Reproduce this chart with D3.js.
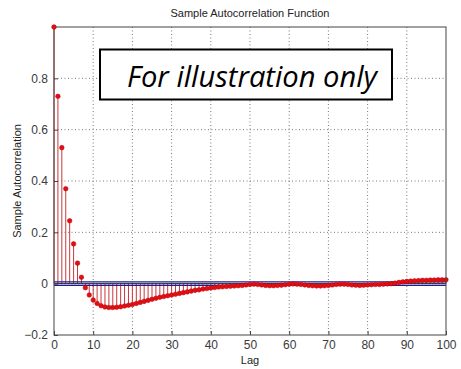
<!DOCTYPE html>
<html>
<head>
<meta charset="utf-8">
<script src="https://cdn.jsdelivr.net/npm/d3@7"></script>
<style>
  body { margin: 0; background: #fff; }
  text { font-family: "Liberation Sans", Arial, sans-serif; }
</style>
</head>
<body>
<div id="chart"></div>
<script>
// Sample autocorrelation values, lag 0..100
const acfValues = [
    1.0, 0.73, 0.53, 0.37, 0.245, 0.155, 0.08, 0.025, -0.016, -0.044,
    -0.064, -0.077, -0.086, -0.091, -0.093, -0.093, -0.092, -0.09, -0.087, -0.084,
    -0.081, -0.077, -0.073, -0.069, -0.065, -0.061, -0.057, -0.053, -0.05, -0.047,
    -0.044, -0.041, -0.038, -0.035, -0.032, -0.029, -0.026, -0.024, -0.021, -0.019,
    -0.017, -0.015, -0.013, -0.012, -0.011, -0.01, -0.009, -0.008, -0.007, -0.005,
    -0.003, -0.002, -0.003, -0.005, -0.007, -0.008, -0.008, -0.007, -0.006, -0.004,
    -0.002, -0.001, -0.002, -0.003, -0.005, -0.007, -0.008, -0.009, -0.009, -0.008,
    -0.007, -0.005, -0.003, -0.002, -0.002, -0.003, -0.005, -0.006, -0.007, -0.006,
    -0.005, -0.004, -0.003, -0.003, -0.002, -0.001, 0, 0.002, 0.005, 0.007,
    0.009, 0.01, 0.011, 0.012, 0.013, 0.013, 0.014, 0.014, 0.015, 0.015,
    0.015
];
const lags = acfValues.map((d, i) => i);

// Confidence bounds (very close to zero)
const confBounds = [0.007, -0.007];

// Axis ticks
const xTicks = [0, 10, 20, 30, 40, 50, 60, 70, 80, 90, 100];
const yTicks = [-0.2, 0, 0.2, 0.4, 0.6, 0.8];

const width = 461, height = 369;
const margin = { left: 54, right: 15, top: 27, bottom: 34 };
const innerW = width - margin.left - margin.right;
const innerH = height - margin.top - margin.bottom;

const svg = d3.select('#chart').append('svg')
    .attr('width', width)
    .attr('height', height);

const x = d3.scaleLinear().domain([0, 100]).range([margin.left, margin.left + innerW]);
const y = d3.scaleLinear().domain([-0.2, 1]).range([margin.top + innerH, margin.top]);

// Grid lines
const grid = svg.append('g').attr('class', 'grid');
grid.selectAll('.gx')
    .data(xTicks.filter(d => d > 0 && d < 100))
    .enter().append('line')
    .attr('x1', d => x(d)).attr('x2', d => x(d))
    .attr('y1', y(1)).attr('y2', y(-0.2))
    .attr('stroke', '#777').attr('stroke-width', 1)
    .attr('stroke-dasharray', '1,2.5');
grid.selectAll('.gy')
    .data(yTicks.filter(d => d > -0.2))
    .enter().append('line')
    .attr('x1', x(0)).attr('x2', x(100))
    .attr('y1', d => y(d)).attr('y2', d => y(d))
    .attr('stroke', '#777').attr('stroke-width', 1)
    .attr('stroke-dasharray', '1,2.5');

// Stems
svg.append('g').selectAll('line')
    .data(lags)
    .enter().append('line')
    .attr('x1', d => x(d)).attr('x2', d => x(d))
    .attr('y1', y(0)).attr('y2', d => y(acfValues[d]))
    .attr('stroke', '#c8383c').attr('stroke-width', 1);

// Baseline and confidence bounds
svg.append('line')
    .attr('x1', x(0)).attr('x2', x(100))
    .attr('y1', y(0)).attr('y2', y(0))
    .attr('stroke', '#222').attr('stroke-width', 1);
svg.append('g').selectAll('line')
    .data(confBounds)
    .enter().append('line')
    .attr('x1', x(0)).attr('x2', x(100))
    .attr('y1', d => y(d)).attr('y2', d => y(d))
    .attr('stroke', '#1c1c9a').attr('stroke-width', 1.2);

// Markers
svg.append('g').selectAll('circle')
    .data(lags)
    .enter().append('circle')
    .attr('cx', d => x(d))
    .attr('cy', d => y(acfValues[d]))
    .attr('r', 2.3)
    .attr('fill', '#e01010')
    .attr('stroke', '#c00010')
    .attr('stroke-width', 0.5);

// Axes
const xAxis = d3.axisBottom(x).tickValues(xTicks).tickSize(-4).tickPadding(5).tickFormat(d3.format('d'));
const yAxis = d3.axisLeft(y).tickValues(yTicks).tickSize(-4).tickPadding(6).tickFormat(d => d === 0 ? '0' : d3.format('.1f')(d));

const gx = svg.append('g').attr('transform', `translate(0,${y(-0.2)})`).call(xAxis);
const gy = svg.append('g').attr('transform', `translate(${x(0)},0)`).call(yAxis);
[gx, gy].forEach(g => {
    g.select('.domain').remove();
    g.selectAll('.tick line').attr('stroke', '#444');
    g.selectAll('.tick text').attr('fill', '#3a3a3a').style('font-size', '12px');
});

// Box
svg.append('rect')
    .attr('x', x(0)).attr('y', y(1))
    .attr('width', x(100) - x(0)).attr('height', y(-0.2) - y(1))
    .attr('fill', 'none').attr('stroke', '#444').attr('stroke-width', 1);

// Lag 0 marker on top of the box
svg.append('circle')
    .attr('cx', x(lags[0])).attr('cy', y(acfValues[0]))
    .attr('r', 2.3).attr('fill', '#e01010');

// Titles
svg.append('text')
    .attr('x', (x(0) + x(100)) / 2).attr('y', 17)
    .attr('text-anchor', 'middle')
    .style('font-size', '11px').attr('fill', '#222')
    .text('Sample Autocorrelation Function');
svg.append('text')
    .attr('x', (x(0) + x(100)) / 2).attr('y', 364)
    .attr('text-anchor', 'middle')
    .style('font-size', '11px').attr('fill', '#222')
    .text('Lag');
svg.append('text')
    .attr('transform', `translate(21,${(y(1) + y(-0.2)) / 2}) rotate(-90)`)
    .attr('text-anchor', 'middle')
    .style('font-size', '11px').attr('fill', '#222')
    .text('Sample Autocorrelation');

// "For illustration only" box
svg.append('rect')
    .attr('x', 100).attr('y', 49.5)
    .attr('width', 292).attr('height', 50)
    .attr('fill', '#fff').attr('stroke', '#000').attr('stroke-width', 2);
svg.append('text')
    .attr('x', 127).attr('y', 86.5)
    .attr('textLength', 250).attr('lengthAdjust', 'spacingAndGlyphs')
    .style('font-family', '"Open Sans", sans-serif')
    .style('font-style', 'italic')
    .style('font-size', '30px')
    .attr('fill', '#000')
    .text('For illustration only');
</script>
</body>
</html>
